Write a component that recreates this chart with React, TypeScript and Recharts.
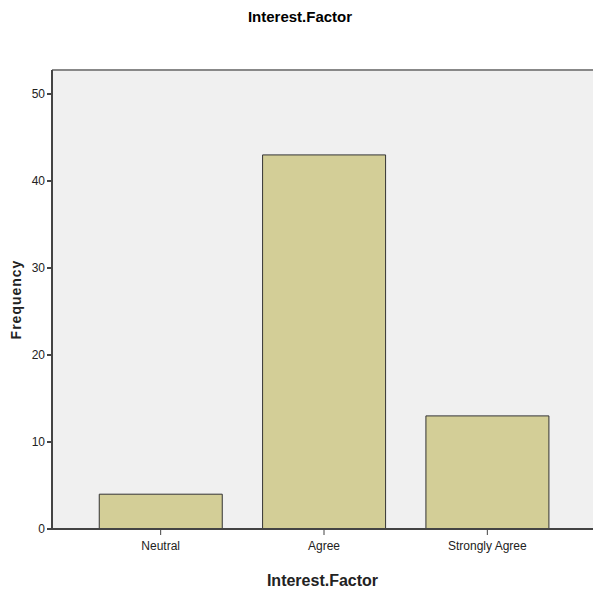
import React from 'react';
import { BarChart, Bar, XAxis, YAxis, CartesianGrid, ReferenceLine, Label } from 'recharts';

const categories = ['Neutral', 'Agree', 'Strongly Agree'];
const frequencies = [4, 43, 13];
const yTicks = [0, 10, 20, 30, 40, 50];

const data = categories.map((c, i) => ({ category: c, frequency: frequencies[i] }));

const font = '"Liberation Sans Narrow", "Liberation Sans", Arial, sans-serif';
const yMax = 52.76;

export default function App() {
  return (
    <div style={{ position: 'absolute', top: 0, left: 0, width: 593, height: 590, background: '#fff' }}>
      <div
        style={{
          position: 'absolute', top: 8, left: 0, width: 600, textAlign: 'center',
          fontFamily: font, fontWeight: 'bold', fontSize: 15, color: '#000',
        }}
      >
        Interest.Factor
      </div>
      <BarChart
        width={593}
        height={590}
        data={data}
        margin={{ top: 70, right: 0, bottom: 0, left: 0 }}
        barCategoryGap="12.4%"
      >
        <CartesianGrid horizontal={false} vertical={false} fill="#f0f0f0" />
        <ReferenceLine y={yMax} stroke="#888" strokeWidth={2} />
        <XAxis
          dataKey="category"
          height={61}
          padding={{ left: 27, right: 24 }}
          axisLine={{ stroke: '#444', strokeWidth: 2 }}
          tickLine={{ stroke: '#444' }}
          tickSize={6}
          tick={{ fontFamily: font, fontSize: 12, fill: '#222', dy: 4 }}
        >
          <Label
            value="Interest.Factor"
            position="insideBottom"
            offset={4}
            style={{ fontFamily: font, fontWeight: 'bold', fontSize: 16, fill: '#222' }}
          />
        </XAxis>
        <YAxis
          width={52}
          domain={[0, yMax]}
          ticks={yTicks}
          axisLine={{ stroke: '#444', strokeWidth: 2 }}
          tickLine={{ stroke: '#444', strokeWidth: 2 }}
          tickSize={5}
          tick={{ fontFamily: font, fontSize: 12, fill: '#222' }}
        >
          <Label
            value="Frequency"
            angle={-90}
            position="insideLeft"
            offset={16}
            style={{ fontFamily: '"Liberation Sans", Arial, sans-serif', fontWeight: 'bold', fontSize: 14, letterSpacing: 1, fill: '#222', textAnchor: 'middle' }}
          />
        </YAxis>
        <Bar dataKey="frequency" fill="#d3ce97" stroke="#333" strokeWidth={1} isAnimationActive={false} />
      </BarChart>
    </div>
  );
}
